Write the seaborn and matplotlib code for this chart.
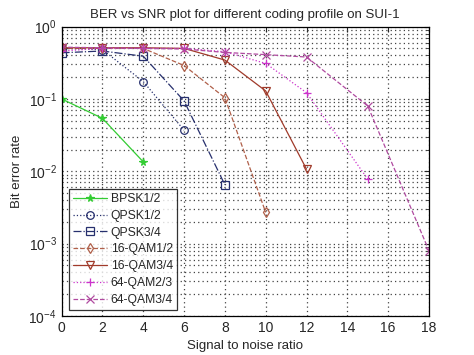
import numpy as np
import pandas as pd
import matplotlib
matplotlib.use("Agg")
import matplotlib.pyplot as plt
import seaborn as sns

# -----------------------------
# 1. Data
# -----------------------------
snr_a = [0, 2, 4]
snr_b = [0, 2, 4, 6]
snr_c = [0, 2, 4, 6, 8]
snr_d = [0, 2, 4, 6, 8, 10]
snr_e = [0, 2, 4, 6, 8, 10, 12]
snr_f = [0, 2, 4, 6, 8, 10, 12, 15]
snr_g = [0, 2, 4, 6, 8, 10, 12, 15, 18]

bpsk_12 = [0.10, 0.054, 0.0135]
qpsk_12 = [0.50, 0.48, 0.174, 0.037]
qpsk_34 = [0.435, 0.46, 0.39, 0.094, 0.0065]
qam16_12 = [0.50, 0.50, 0.50, 0.29, 0.104, 0.0027]
qam16_34 = [0.51, 0.51, 0.51, 0.50, 0.345, 0.129, 0.0107]
qam64_23 = [0.46, 0.50, 0.50, 0.50, 0.45, 0.31, 0.122, 0.0078]
qam64_34 = [0.52, 0.51, 0.50, 0.49, 0.44, 0.41, 0.38, 0.08, 0.0008]

labels = ["BPSK1/2", "QPSK1/2", "QPSK3/4", "16-QAM1/2",
          "16-QAM3/4", "64-QAM2/3", "64-QAM3/4"]

series = [
    (snr_a, bpsk_12, "#33cc33", "-", "*", "#33cc33"),
    (snr_b, qpsk_12, "#27306e", ":", "o", "none"),
    (snr_c, qpsk_34, "#27306e", "-.", "s", "none"),
    (snr_d, qam16_12, "#b0604a", "--", "d", "none"),
    (snr_e, qam16_34, "#a03a2a", "-", "v", "none"),
    (snr_f, qam64_23, "#cc33cc", ":", "+", "none"),
    (snr_g, qam64_34, "#b04aa0", "--", "x", "none"),
]

# -----------------------------
# 2. Plot
# -----------------------------
sns.set_style("white")
plt.rcParams['font.family'] = ['Liberation Sans', 'DejaVu Sans']

fig = plt.figure(figsize=(4.74, 3.55), dpi=100)
ax = fig.add_axes([0.130, 0.110, 0.775, 0.815])

for (x, y, color, ls, mk, mfc), name in zip(series, labels):
    df = pd.DataFrame({"snr": x, "ber": y})
    sns.lineplot(data=df, x="snr", y="ber", ax=ax, color=color,
                 linestyle=ls, marker=mk, markersize=5.5,
                 markerfacecolor=mfc, markeredgecolor=color,
                 markeredgewidth=0.9, linewidth=0.9, label=name)

ax.set_yscale("log")
ax.set_xlim(0, 18)
ax.set_ylim(1e-4, 1)
ax.set_xticks(range(0, 19, 2))
ax.set_title("BER vs SNR plot for different coding profile on SUI-1", fontsize=9.5)
ax.set_xlabel("Signal to noise ratio", fontsize=9.5)
ax.set_ylabel("Bit error rate", fontsize=9.5)
ax.tick_params(axis="both", which="both", direction="in", top=True, right=True,
               labelsize=10)
grid_kw = dict(linestyle=(0, (1, 2.5)), color="#444444", linewidth=0.9)
ax.grid(True, which="major", **grid_kw)
ax.yaxis.grid(True, which="minor", **grid_kw)
ax.set_axisbelow(True)
for s in ax.spines.values():
    s.set_color("black")
    s.set_linewidth(0.9)

leg = ax.legend(loc="lower left", bbox_to_anchor=(0.02, 0.02), fontsize=8.7,
                frameon=True, fancybox=False, edgecolor="black",
                labelspacing=0.4, handlelength=2.8, borderpad=0.35,
                handletextpad=0.3, borderaxespad=0)
leg.get_frame().set_linewidth(0.9)

fig.savefig("out.png", dpi=100)
